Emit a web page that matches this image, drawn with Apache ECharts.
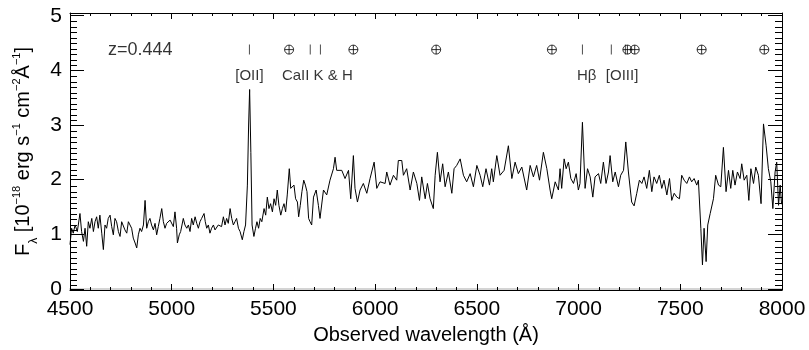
<!DOCTYPE html>
<html>
<head>
<meta charset="utf-8">
<title>Spectrum z=0.444</title>
<script src="https://cdn.jsdelivr.net/npm/echarts@6/dist/echarts.min.js"></script>
<style>
  html, body { margin: 0; padding: 0; background: #fff; }
  #chart { width: 809px; height: 350px; }
</style>
</head>
<body>
<div id="chart"></div>
<script>
// spectrum (wavelength in Å, flux in 1e-18 erg/s/cm2/Å)
const waveBlue = [
  4500, 4508, 4516, 4525, 4536, 4549, 4557, 4566, 4574, 4582,
  4590, 4598, 4607, 4615, 4623, 4631, 4639, 4647, 4656, 4664,
  4672, 4680, 4688, 4697, 4705, 4713, 4721, 4729, 4738, 4746,
  4754, 4762, 4770, 4779, 4787, 4795, 4803, 4811, 4820, 4828,
  4836, 4844, 4852, 4861, 4869, 4877, 4885, 4893, 4901, 4910,
  4918, 4926, 4934, 4942, 4951, 4959, 4967, 4975, 4983, 4992,
  5000, 5008, 5016, 5024, 5028, 5037, 5044, 5057, 5065, 5074,
  5082, 5090, 5098, 5106, 5115, 5123, 5131, 5139, 5147, 5159,
  5165, 5172, 5180, 5188, 5196, 5205, 5213, 5221, 5229, 5237,
  5245, 5254, 5262, 5270, 5278, 5287, 5295, 5303, 5311, 5319,
  5328, 5336, 5347, 5355, 5363, 5372, 5378, 5383, 5389, 5395,
  5404, 5412, 5419, 5427, 5435, 5443, 5454, 5462, 5470, 5478,
  5486, 5495, 5503, 5511, 5519, 5527, 5536, 5544, 5552, 5560,
  5568, 5578, 5585, 5593, 5601, 5609, 5618, 5624, 5632, 5640,
  5649, 5657, 5665, 5673
]
const fluxBlue = [
  0.81, 1.11, 1.02, 1.17, 1.05, 1.38, 1.05, 0.87, 1.11, 0.78,
  1.23, 1.11, 1.29, 1.05, 1.23, 1.32, 1.11, 1.35, 1.02, 0.72,
  1.17, 1.11, 1.29, 1.35, 1.14, 0.99, 1.29, 1.23, 1.05, 0.96,
  1.23, 1.23, 1.08, 1.02, 1.23, 1.23, 1.11, 0.93, 0.84, 0.75,
  0.99, 1.11, 1.05, 1.17, 1.62, 1.11, 1.23, 1.29, 1.17, 1.08,
  1.20, 0.99, 1.14, 1.29, 1.47, 1.23, 1.11, 1.20, 1.17, 1.26,
  1.23, 1.14, 1.41, 1.11, 0.84, 0.99, 1.05, 1.29, 1.17, 1.11,
  1.17, 1.05, 1.29, 1.17, 1.32, 1.20, 1.11, 1.23, 1.29, 1.38,
  1.23, 1.11, 1.17, 1.02, 1.11, 1.17, 1.08, 1.11, 1.17, 1.20,
  1.14, 1.32, 1.17, 1.29, 1.20, 1.47, 1.29, 1.17, 1.23, 1.29,
  1.11, 1.05, 0.90, 1.05, 1.17, 1.90, 3.00, 3.65, 2.50, 1.17,
  0.96, 1.11, 1.23, 1.11, 1.29, 1.23, 1.47, 1.35, 1.68, 1.47,
  1.56, 1.41, 1.65, 1.53, 1.81, 1.53, 1.35, 1.47, 1.56, 1.41,
  1.72, 2.20, 1.84, 1.87, 1.90, 1.65, 1.59, 1.32, 1.53, 1.78,
  1.99, 1.90, 1.78, 1.29
]
const waveMid = [
  5680, 5688, 5697, 5710, 5721, 5729, 5746, 5762, 5778, 5795,
  5803, 5811, 5819, 5836, 5852, 5869, 5880, 5893, 5901, 5913,
  5926, 5942, 5959, 5975, 5995, 6008, 6024, 6049, 6057, 6073,
  6090, 6106, 6114, 6131, 6139, 6155, 6172, 6188, 6205, 6218,
  6229, 6246, 6257, 6270, 6286, 6295, 6306, 6319, 6332, 6344,
  6360, 6377, 6388, 6401, 6418, 6434, 6450, 6467, 6483, 6500,
  6516, 6529, 6545, 6562, 6573, 6581, 6598, 6614, 6634, 6655,
  6672, 6688, 6704, 6721, 6745, 6762, 6778, 6794, 6808, 6827,
  6844, 6860, 6868, 6885, 6901, 6909
]
const fluxMid = [
  1.23, 1.17, 1.68, 1.81, 1.53, 1.29, 1.81, 1.72, 1.99, 2.20,
  2.41, 2.17, 2.20, 2.17, 2.02, 2.17, 1.65, 2.44, 1.84, 1.59,
  1.81, 1.93, 1.75, 2.02, 2.32, 1.84, 1.96, 1.93, 2.14, 1.90,
  2.08, 1.99, 2.35, 2.35, 2.08, 2.20, 1.81, 2.14, 1.93, 1.62,
  2.05, 1.65, 1.93, 1.65, 1.47, 2.08, 2.50, 1.96, 2.29, 1.87,
  2.14, 1.75, 2.20, 2.26, 2.38, 2.08, 1.96, 2.11, 1.87, 2.26,
  2.08, 1.87, 2.20, 1.90, 2.20, 1.96, 2.44, 2.08, 2.17, 2.62,
  2.02, 2.32, 2.11, 2.23, 1.81, 2.26, 2.05, 2.26, 1.99, 2.50,
  2.20, 1.81, 1.65, 1.96, 1.81, 2.20
]
const waveRed = [
  6917, 6929, 6939, 6950, 6962, 6975, 6988, 6999, 7007, 7019,
  7032, 7044, 7057, 7070, 7081, 7098, 7109, 7122, 7135, 7147,
  7155, 7168, 7180, 7196, 7207, 7221, 7232, 7245, 7261, 7273,
  7286, 7299, 7311, 7322, 7335, 7348, 7360, 7371, 7384, 7397,
  7409, 7420, 7434, 7447, 7458, 7470, 7483, 7496, 7507, 7519,
  7532, 7545, 7556, 7568, 7581, 7589, 7601, 7609, 7617, 7627,
  7635, 7647, 7663, 7674, 7688, 7699, 7712, 7725, 7737, 7748,
  7758, 7769, 7781, 7794, 7802, 7814, 7827, 7837, 7847, 7860,
  7871, 7884, 7897, 7909, 7922, 7933, 7945, 7955, 7966, 7974,
  7983, 7991, 7998
]
const fluxRed = [
  1.84, 2.38, 2.20, 2.32, 2.02, 1.93, 2.11, 1.81, 1.93, 3.05,
  1.84, 2.20, 2.05, 1.68, 2.05, 2.11, 1.93, 2.32, 1.93, 2.14,
  2.44, 1.96, 2.14, 1.87, 2.08, 2.17, 2.69, 2.14, 1.59, 1.52,
  1.75, 1.99, 1.93, 2.05, 1.84, 2.17, 1.78, 2.05, 1.93, 2.08,
  1.84, 1.99, 1.72, 2.02, 1.62, 1.75, 1.68, 1.65, 2.08, 1.99,
  1.93, 2.05, 1.96, 2.02, 1.90, 1.99, 1.11, 0.44, 1.11, 0.50,
  1.17, 1.38, 1.65, 2.08, 1.90, 1.87, 2.59, 1.78, 2.17, 1.84,
  2.17, 1.90, 2.14, 2.02, 2.29, 1.99, 2.08, 1.62, 2.20, 1.93,
  2.23, 2.08, 1.56, 3.02, 2.62, 2.20, 1.96, 1.47, 2.14, 2.32,
  1.53, 1.90, 1.55
]

// line identifications at z=0.444 (observed Å)
const galaxyLines = [5382, 5681, 5731, 7019, 7161, 7230]
const skyLines = [5577, 5893, 6300, 6869, 7240, 7276, 7605, 7913]
const lineNames = ['[OII]', 'CaII K & H', 'Hβ', '[OIII]']
const lineNameWaves = [5382, 5716, 7040, 7214]
const redshiftText = 'z=0.444'

// axis ticks
const yMajorTicks = [0, 1, 2, 3, 4, 5]
const yMinorTicks = []
for (let i = 0; i <= 50; i++) {
  if (i % 10 !== 0) yMinorTicks.push(i / 10)
}

const FONT = '"Liberation Sans", Arial, Helvetica, sans-serif'
const MARK_Y = 4.38
const NAME_Y = 3.9
const Y_MIN = -0.02
const Y_MAX = 5.05
const GRID_RECT = { left: 70, right: 27, top: 13, bottom: 58, containLabel: false }

const zip = (xs, ys) => xs.map((x, i) => [x, ys[i]])

const spectrum = [
  ...zip(waveBlue, fluxBlue),
  ...zip(waveMid, fluxMid),
  ...zip(waveRed, fluxRed),
]

// earth symbol (circle with cross) for sky features
const EARTH = 'path://M10,1A9,9,0,1,1,10,19A9,9,0,1,1,10,1ZM1,10L19,10M10,1L10,19'

const xAxisBase = {
  type: 'value',
  min: 4500,
  max: 8000,
  interval: 500,
  axisLine: { show: true, onZero: false, lineStyle: { color: '#000', width: 1 } },
  axisTick: { show: true, inside: true, length: 6, lineStyle: { color: '#000' } },
  minorTick: { show: true, splitNumber: 5, length: 3, lineStyle: { color: '#000' } },
  splitLine: { show: false },
}

// hidden x axis for the grids that only carry minor y ticks
const hiddenX = gridIndex => ({
  type: 'value', gridIndex, min: 4500, max: 8000, show: false,
})

const yAxisBase = (gridIndex, position, ticks, len, withLine) => ({
  type: 'value',
  gridIndex,
  position,
  min: Y_MIN,
  max: Y_MAX,
  axisLine: { show: withLine, onZero: false, lineStyle: { color: '#000', width: 1 } },
  axisTick: { show: true, inside: true, length: len, customValues: ticks, lineStyle: { color: '#000' } },
  axisLabel: { show: false },
  splitLine: { show: false },
})

const chart = echarts.init(document.getElementById('chart'), null, { renderer: 'canvas' })

const option = {
  animation: false,
  backgroundColor: '#fff',
  textStyle: { fontFamily: FONT },
  grid: [GRID_RECT, GRID_RECT, GRID_RECT],
  xAxis: [
    {
      ...xAxisBase,
      gridIndex: 0,
      position: 'bottom',
      axisLabel: {
        show: true, color: '#000', fontSize: 21, fontFamily: FONT, margin: 9,
        formatter: v => String(v),
      },
      name: 'Observed wavelength (Å)',
      nameLocation: 'middle',
      nameGap: 35,
      nameTextStyle: { color: '#000', fontSize: 20, fontFamily: FONT },
    },
    { ...xAxisBase, gridIndex: 0, position: 'top', axisLabel: { show: false } },
    // faint scan band above the top frame
    {
      type: 'value', gridIndex: 0, position: 'top', offset: 2, min: 4500, max: 8000,
      axisLine: { show: true, lineStyle: { color: '#d4d4d4', width: 2 } },
      axisTick: { show: false }, axisLabel: { show: false }, splitLine: { show: false },
    },
    hiddenX(1),
    hiddenX(2),
  ],
  yAxis: [
    {
      ...yAxisBase(0, 'left', yMajorTicks, 14, true),
      axisLabel: { show: true, customValues: yMajorTicks, color: '#000', fontSize: 21, fontFamily: FONT, margin: 8 },
      name: '{b|F}{sub|λ}{b| [10}{sup|−18}{b| erg s}{sup|−1}{b| cm}{sup|−2}{b|Å}{sup|−1}{b|]}',
      nameLocation: 'middle',
      nameGap: 34,
      nameTextStyle: {
        color: '#000',
        fontFamily: FONT,
        rich: {
          b: { fontSize: 20, fontFamily: FONT, color: '#000', lineHeight: 24 },
          sup: { fontSize: 11, fontFamily: FONT, color: '#000', verticalAlign: 'top', lineHeight: 24 },
          sub: { fontSize: 12, fontFamily: FONT, color: '#000', verticalAlign: 'bottom', lineHeight: 24, padding: [0, 0, -4, 0] },
        },
      },
    },
    yAxisBase(0, 'right', yMajorTicks, 14, true),
    yAxisBase(1, 'left', yMinorTicks, 7, false),
    yAxisBase(2, 'right', yMinorTicks, 7, false),
  ],
  series: [
    {
      name: 'spectrum',
      type: 'line',
      data: spectrum,
      showSymbol: false,
      symbol: 'none',
      lineStyle: { color: '#000', width: 1 },
      silent: true,
      z: 3,
    },
    {
      name: 'galaxy lines',
      type: 'scatter',
      data: galaxyLines.map(w => [w, MARK_Y]),
      symbol: 'rect',
      symbolSize: [1, 10],
      itemStyle: { color: '#222' },
      silent: true,
    },
    {
      name: 'sky lines',
      type: 'scatter',
      data: skyLines.map(w => [w, MARK_Y]),
      symbol: EARTH,
      symbolSize: 9,
      itemStyle: { color: 'rgba(0,0,0,0)', borderColor: '#000', borderWidth: 1 },
      silent: true,
    },
    {
      name: 'line names',
      type: 'scatter',
      data: lineNameWaves.map((w, i) => ({ value: [w, NAME_Y], name: lineNames[i] })),
      symbolSize: 0,
      label: {
        show: true,
        position: 'inside',
        formatter: p => p.name,
        color: '#000',
        fontSize: 15,
        fontFamily: FONT,
      },
      silent: true,
    },
    {
      name: 'redshift',
      type: 'scatter',
      data: [{ value: [4687, MARK_Y], name: redshiftText }],
      symbolSize: 0,
      label: {
        show: true,
        position: 'inside',
        align: 'left',
        formatter: p => p.name,
        color: '#000',
        fontSize: 18,
        fontFamily: FONT,
      },
      silent: true,
    },
  ],
}

chart.setOption(option)
</script>
</body>
</html>
